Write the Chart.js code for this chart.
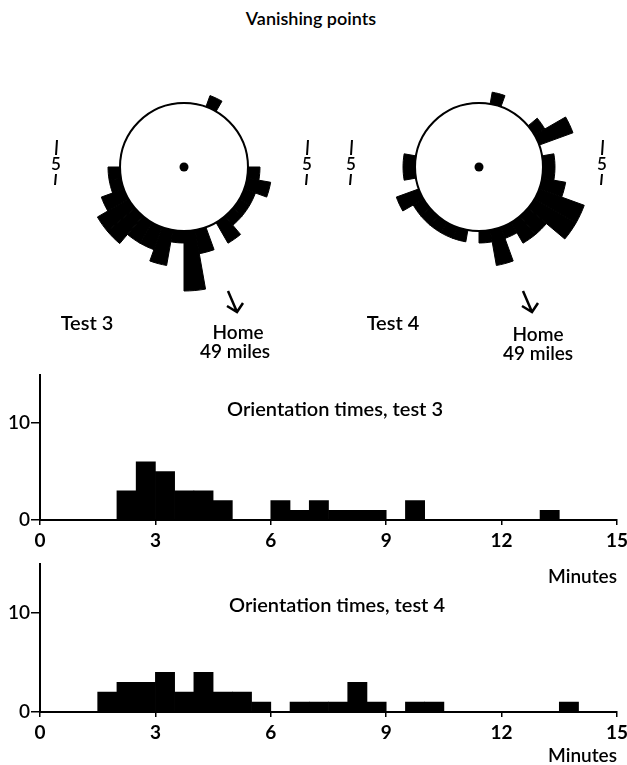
<!DOCTYPE html>
<html>
<head>
<meta charset="utf-8">
<script src="https://cdn.jsdelivr.net/npm/chart.js@4.4.1/dist/chart.umd.min.js"></script>
<style>
  html, body { margin: 0; padding: 0; background: #fff; }
  body { width: 627px; height: 765px; position: relative; overflow: hidden; font-family: Lato, "Open Sans", sans-serif; color: #000; font-weight: 600; }
  canvas { position: absolute; }
  .lbl { position: absolute; transform: translate(-50%, -50%); white-space: nowrap; }
</style>
</head>
<body>
<div class="lbl" style="left:311px; top:18px; font-size:18px">Vanishing points</div>

<canvas id="rose3" width="290" height="315" style="left:39px; top:22px"></canvas>
<canvas id="rose4" width="290" height="315" style="left:334px; top:22px"></canvas>

<div class="lbl" style="left:87px; top:322px; font-size:20px">Test 3</div>
<div class="lbl" style="left:238px; top:331px; font-size:19px">Home</div>
<div class="lbl" style="left:235px; top:350px; font-size:19px">49 miles</div>
<div class="lbl" style="left:393px; top:322px; font-size:20px">Test 4</div>
<div class="lbl" style="left:538px; top:333px; font-size:19px">Home</div>
<div class="lbl" style="left:538px; top:352px; font-size:19px">49 miles</div>

<canvas id="hist3" width="640" height="230" style="left:0px; top:360px"></canvas>
<canvas id="hist4" width="640" height="216" style="left:0px; top:551px"></canvas>

<div class="lbl" style="left:335px; top:408px; font-size:20px">Orientation times, test 3</div>
<div class="lbl" style="left:337px; top:604px; font-size:20px">Orientation times, test 4</div>

<script>
// vanishing bearings, 10 degree sectors clockwise from north
const bearingBins = ['0', '10', '20', '30', '40', '50', '60', '70', '80', '90', '100', '110',
  '120', '130', '140', '150', '160', '170', '180', '190', '200', '210', '220', '230',
  '240', '250', '260', '270', '280', '290', '300', '310', '320', '330', '340', '350'];
const test3Vanish = [0, 0, 1, 0, 0, 0, 0, 0, 0, 1, 2, 1, 1, 1, 2, 0, 2, 5,
  1, 3, 2, 2, 3, 3, 2, 1, 1, 0, 0, 0, 0, 0, 0, 0, 0, 0];
const test4Vanish = [0, 1, 0, 0, 0, 1, 3, 0, 1, 1, 2, 4, 4, 2, 2, 1, 3, 1,
  0, 1, 1, 1, 1, 1, 2, 0, 1, 1, 0, 0, 0, 0, 0, 0, 0, 0];

// orientation times, half-minute classes (class midpoints)
const minuteBins = [0.25, 0.75, 1.25, 1.75, 2.25, 2.75, 3.25, 3.75, 4.25, 4.75,
  5.25, 5.75, 6.25, 6.75, 7.25, 7.75, 8.25, 8.75, 9.25, 9.75,
  10.25, 10.75, 11.25, 11.75, 12.25, 12.75, 13.25, 13.75, 14.25, 14.75];
const test3Times = [0, 0, 0, 0, 3, 6, 5, 3, 3, 2, 0, 0, 2, 1, 2, 1, 1, 1, 0, 2,
  0, 0, 0, 0, 0, 0, 1, 0, 0, 0];
const test4Times = [0, 0, 0, 2, 3, 3, 4, 2, 4, 2, 2, 1, 0, 1, 1, 1, 3, 1, 0, 1,
  1, 0, 0, 0, 0, 0, 0, 1, 0, 0];

// white release circle, centre dot, "5" scale marks and home arrow
const roseDecor = {
    id: 'roseDecor',
    afterDatasetsDraw(chart) {
        const r = chart.scales.r;
        const ctx = chart.ctx;
        const cx = r.xCenter, cy = r.yCenter;
        const r0 = r.getDistanceFromCenterForValue(0);
        ctx.save();
        ctx.beginPath();
        ctx.arc(cx, cy, r0, 0, 2 * Math.PI);
        ctx.fillStyle = '#fff';
        ctx.fill();
        ctx.lineWidth = 2;
        ctx.strokeStyle = '#000';
        ctx.stroke();
        ctx.beginPath();
        ctx.arc(cx, cy, 4.5, 0, 2 * Math.PI);
        ctx.fillStyle = '#000';
        ctx.fill();

        ctx.font = '600 17px Lato';
        ctx.textAlign = 'center';
        ctx.textBaseline = 'middle';
        ctx.lineWidth = 2;
        for (const dx of [-128, 123]) {
            ctx.beginPath();
            ctx.moveTo(cx + dx + 1, cy - 27);
            ctx.lineTo(cx + dx, cy - 12);
            ctx.moveTo(cx + dx, cy + 7);
            ctx.lineTo(cx + dx - 1, cy + 18);
            ctx.stroke();
            ctx.fillText('5', cx + dx, cy - 2);
        }

        ctx.lineWidth = 2.5;
        ctx.beginPath();
        ctx.moveTo(cx + 44, cy + 124);
        ctx.lineTo(cx + 53, cy + 145);
        ctx.moveTo(cx + 43, cy + 139);
        ctx.lineTo(cx + 53, cy + 145);
        ctx.lineTo(cx + 59, cy + 136);
        ctx.stroke();
        ctx.restore();
    }
};

function makeRose(id, values) {
    new Chart(document.getElementById(id), {
        type: 'polarArea',
        data: {
            labels: bearingBins,
            datasets: [{
                data: values,
                backgroundColor: '#000',
                borderColor: '#000',
                borderWidth: 1
            }]
        },
        options: {
            responsive: false,
            animation: false,
            layout: { padding: { top: 0, left: 0, right: 0, bottom: 25 } },
            scales: {
                r: {
                    min: -5.33,
                    max: 6.75,
                    startAngle: 0,
                    grid: { display: false },
                    angleLines: { display: false },
                    ticks: { display: false },
                    pointLabels: { display: false }
                }
            },
            plugins: { legend: { display: false }, tooltip: { enabled: false } }
        },
        plugins: [roseDecor]
    });
}

function makeHist(id, counts, topPad, axisHeight, titlePad) {
    new Chart(document.getElementById(id), {
        type: 'bar',
        data: {
            datasets: [{
                data: minuteBins.map((m, i) => ({ x: m, y: counts[i] })),
                backgroundColor: '#000',
                borderWidth: 0,
                barPercentage: 1,
                categoryPercentage: 1
            }]
        },
        options: {
            responsive: false,
            animation: false,
            layout: { padding: { top: topPad, left: 0, right: 23, bottom: 0 } },
            scales: {
                x: {
                    type: 'linear',
                    min: 0,
                    max: 15,
                    offset: false,
                    afterFit: s => { s.height = axisHeight; },
                    border: { color: '#000', width: 2 },
                    grid: { offset: false, drawOnChartArea: false, tickLength: 5, color: '#000', lineWidth: 1.5 },
                    ticks: {
                        stepSize: 3, autoSkip: false, maxRotation: 0, padding: 4,
                        color: '#000', font: { family: 'Lato', size: 19, weight: 'bold' }
                    },
                    title: {
                        display: true, text: 'Minutes', align: 'end', color: '#000',
                        padding: { top: 0, bottom: titlePad },
                        font: { family: 'Lato', size: 19, weight: '600' }
                    }
                },
                y: {
                    min: 0,
                    max: 15,
                    afterFit: s => { s.width = 40; },
                    border: { color: '#000', width: 2 },
                    grid: { drawOnChartArea: false, tickLength: 9, color: '#000', lineWidth: 1.5 },
                    ticks: {
                        stepSize: 10, includeBounds: false, padding: 1,
                        color: '#000', font: { family: 'Lato', size: 19, weight: '600' }
                    }
                }
            },
            plugins: { legend: { display: false }, tooltip: { enabled: false } }
        }
    });
}

makeRose('rose3', test3Vanish);
makeRose('rose4', test4Vanish);
makeHist('hist3', test3Times, 14.5, 70, 1.6);
makeHist('hist4', test4Times, 12.5, 55, 0);
</script>
</body>
</html>
